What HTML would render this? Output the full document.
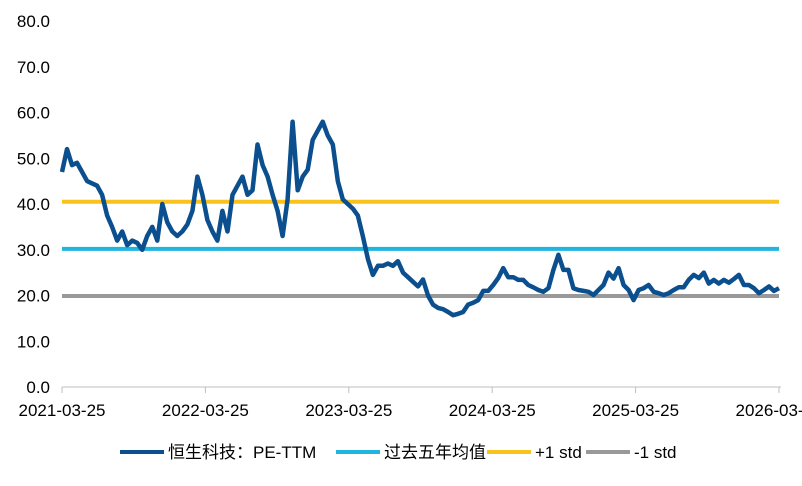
<!DOCTYPE html>
<html><head><meta charset="utf-8"><style>
body{margin:0;background:#fff;font-family:"Liberation Sans","Noto Sans CJK SC",sans-serif;}
svg text{font-family:"Liberation Sans","Noto Sans CJK SC",sans-serif;fill:#000;}
</style></head><body>
<svg id="chart" width="802" height="481" viewBox="0 0 802 481" xmlns="http://www.w3.org/2000/svg">
<g id="yaxis"></g>
<g id="xaxis"></g>
<g id="plot"></g>
<g id="legend"></g>
</svg>
<script>
const yTicks=[0,10,20,30,40,50,60,70,80];
const xTickLabels=["2021-03-25","2022-03-25","2023-03-25","2024-03-25","2025-03-25","2026-03-25"];
const meanValue=[30.2];
const plusStd=[40.5];
const minusStd=[19.9];
const peSeries=[47,52,48.5,49,47,45,44.5,44,42,37.5,35,32,34,31,32,31.5,30,33,35,32,40,36,34,33,34,35.5,38.5,46,42,
36.5,34,32,38.5,34,42,44,46,42,43,53,48.5,46,42,38.5,33,41,58,43,46,47.5,54,56,58,55,53,45,41,40,
39,37.5,33,28,24.5,26.5,26.5,27,26.5,27.5,25,24,23,22,23.5,20,18,17.3,17,16.4,15.7,16,16.4,18,18.4,19,21,21,22.3,23.8,26,24,24,23.4,23.4,22.3,21.8,21.2,20.8,21.6,25.6,28.9,25.6,25.6,21.6,21.2,21,20.8,20.1,21.2,22.3,25,23.7,26,22.3,21.2,19,21.2,21.6,22.3,20.8,20.5,20.1,20.5,21.2,21.8,21.8,23.4,24.5,23.8,25,22.6,23.4,22.6,23.4,22.8,23.6,24.5,22.3,22.3,21.6,20.5,21.2,22,21,21.6];
const X0=62,X1=779,Y0=387,Y80=21;
const y=v=>Y0-(v/80)*(Y0-Y80);
const xi=i=>X0+(X1-X0)*i/(peSeries.length-1);
const xt=i=>X0+(X1-X0)*i/(xTickLabels.length-1);
const NS="http://www.w3.org/2000/svg";
function mk(tag,attrs,parent,txt){const e=document.createElementNS(NS,tag);for(const k in attrs)e.setAttribute(k,attrs[k]);if(txt!==undefined)e.textContent=txt;parent.appendChild(e);return e;}
const ya=document.getElementById('yaxis'),xa=document.getElementById('xaxis'),pl=document.getElementById('plot'),lg=document.getElementById('legend');
yTicks.forEach(v=>{const t=mk('text',{x:50,y:y(v)+6,'text-anchor':'end','font-size':17},ya,v.toFixed(1));

});
mk('line',{x1:X0,y1:Y0,x2:X1+2,y2:Y0,stroke:'#bfbfbf','stroke-width':1},xa);
xTickLabels.forEach((s,i)=>{mk('line',{x1:xt(i),y1:Y0,x2:xt(i),y2:Y0+6,stroke:'#bfbfbf'},xa);
const t=mk('text',{x:xt(i),y:Y0+29,'text-anchor':'middle','font-size':17},xa,s);

});
function hline(v,c,name){const l=mk('line',{x1:X0,y1:y(v),x2:X1,y2:y(v),stroke:c,'stroke-width':4},pl);

}
hline(meanValue[0],'#1fb5e0','mean-line');
hline(plusStd[0],'#f9c21c','plus-1-std-line');
hline(minusStd[0],'#999999','minus-1-std-line');
const p=mk('polyline',{points:peSeries.map((v,i)=>xi(i).toFixed(1)+','+y(v).toFixed(1)).join(' '),fill:'none',stroke:'#0b4f8f','stroke-width':4.5,'stroke-linejoin':'round'},pl);


const items=[["恒生科技：PE-TTM","#0b4f8f",120],["过去五年均值","#1fb5e0",336],["+1 std","#f9c21c",487],["-1 std","#999999",586]];
items.forEach(it=>{const g=mk('g',{},lg);


mk('line',{x1:it[2],y1:452,x2:it[2]+44,y2:452,stroke:it[1],'stroke-width':4},g);
mk('text',{x:it[2]+48,y:458,'font-size':17},g,it[0]);});
</script>
</body></html>
